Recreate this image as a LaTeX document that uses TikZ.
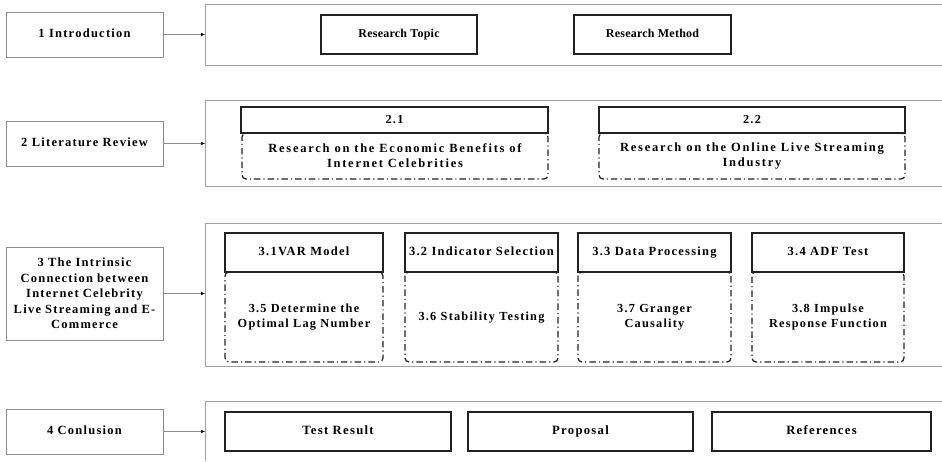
\documentclass[tikz,border=0pt]{standalone}
\usepackage{fontspec}
\setmainfont{Liberation Serif}
\newfontfamily\lsfont[LetterSpace=10]{Liberation Serif}
\newfontfamily\lswfont[LetterSpace=14]{Liberation Serif}
\newfontfamily\lsnfont[LetterSpace=2]{Liberation Serif}
\usetikzlibrary{arrows.meta}
\definecolor{contgray}{HTML}{A0A0A0}
\definecolor{leftgray}{HTML}{8C8C8C}
\definecolor{darkline}{HTML}{222222}
\begin{document}
\begin{tikzpicture}[x=1pt,y=-1pt,
  every node/.style={inner sep=1pt, text=black, align=center},
  oneline/.style={text height=8.5pt, text depth=2.5pt},
  fa/.style={font=\lsfont\bfseries\fontsize{12.5}{15.5}\selectfont},
  fb/.style={font=\lsnfont\bfseries\fontsize{12}{14}\selectfont},
  fc/.style={font=\lswfont\bfseries\fontsize{12.5}{15}\selectfont},
  fd/.style={font=\lsfont\bfseries\fontsize{12.3}{15}\selectfont},
  fe/.style={font=\lsfont\bfseries\fontsize{12.7}{15}\selectfont},
  leftbox/.style={fa, draw=leftgray, line width=0.9pt, minimum width=157pt},
  contline/.style={draw=contgray, line width=1pt},
  solidbox/.style={draw=darkline, line width=1.1pt},
  dashbox/.style={draw=darkline, line width=1.25pt, dash pattern=on 6.5pt off 3pt on 1.2pt off 3pt, rounded corners=4pt},
  conn/.style={draw=leftgray, line width=0.5pt, -{Latex[length=4pt,width=3.5pt,color=black]}}
]
\useasboundingbox (0,0) rectangle (942,461);

% left column
\node[leftbox, oneline, minimum height=45pt] (l1) at (84.5,34.5) {1 Introduction};
\node[leftbox, oneline, minimum height=45pt] (l2) at (84.5,143.5) {2 Literature Review};
\node[leftbox, minimum height=93pt, text width=154pt] (l3) at (84.5,293.5) {3 The Intrinsic\\Connection between\\Internet Celebrity\\Live Streaming and E-\\Commerce};
\node[leftbox, oneline, minimum height=45pt] (l4) at (84.5,431.5) {4 Conlusion};

% containers (open at right)
\draw[contline] (942,4) -- (205,4) -- (205,65) -- (942,65);
\draw[contline] (942,100) -- (205,100) -- (205,186) -- (942,186);
\draw[contline] (942,223) -- (205,223) -- (205,366) -- (942,366);
\draw[contline] (942,401) -- (205,401) -- (205,461);
\coordinate (c1) at (205,34.5);
\coordinate (c2) at (205,143.5);
\coordinate (c3) at (205,293.5);
\coordinate (c4) at (205,431.5);

\draw[conn] (l1.east) -- (c1);
\draw[conn] (l2.east) -- (c2);
\draw[conn] (l3.east) -- (c3);
\draw[conn] (l4.east) -- (c4);

% row 1
\node[fb, oneline, solidbox, minimum width=156pt, minimum height=39pt] (rt) at (399,34.5) {Research Topic};
\node[fb, oneline, solidbox, minimum width=157pt, minimum height=39pt] (rm) at (652.5,34.5) {Research Method};

% row 2
\node[fc, dashbox, minimum width=306pt, minimum height=46pt] (d21) at (395,156) {Research on the Economic Benefits of\\Internet Celebrities};
\node[fd, oneline, solidbox, fill=white, minimum width=307pt, minimum height=26pt] (h21) at (394.5,120) {2.1};
\node[fc, dashbox, minimum width=306pt, minimum height=46pt] (d22) at (752,156) {Research on the Online Live Streaming\\Industry};
\node[fd, oneline, solidbox, fill=white, minimum width=306pt, minimum height=26pt] (h22) at (752,120) {2.2};

% row 3
\node[fd, dashbox, minimum width=158pt, minimum height=90pt] (d35) at (304,317) {3.5 Determine the\\Optimal Lag Number};
\node[fa, oneline, solidbox, fill=white, minimum width=158pt, minimum height=39pt] (h31) at (304,252.5) {3.1VAR Model};
\node[fd, oneline, dashbox, minimum width=153pt, minimum height=90pt] (d36) at (481.5,317) {3.6 Stability Testing};
\node[fa, oneline, solidbox, fill=white, minimum width=153pt, minimum height=39pt] (h32) at (481.5,252.5) {3.2 Indicator Selection};
\node[fd, dashbox, minimum width=153pt, minimum height=90pt] (d37) at (654.5,317) {3.7 Granger\\Causality};
\node[fa, oneline, solidbox, fill=white, minimum width=153pt, minimum height=39pt] (h33) at (654.5,252.5) {3.3 Data Processing};
\node[fd, dashbox, minimum width=152pt, minimum height=90pt] (d38) at (828,317) {3.8 Impulse\\Response Function};
\node[fa, oneline, solidbox, fill=white, minimum width=152pt, minimum height=39pt] (h34) at (828,252.5) {3.4 ADF Test};

% row 4
\node[fe, oneline, solidbox, minimum width=226pt, minimum height=39pt] (tr) at (338,431.5) {Test Result};
\node[fe, oneline, solidbox, minimum width=225pt, minimum height=39pt] (pr) at (580.5,431.5) {Proposal};
\node[fe, oneline, solidbox, minimum width=219pt, minimum height=39pt] (rf) at (821.5,431.5) {References};
\end{tikzpicture}
\end{document}
